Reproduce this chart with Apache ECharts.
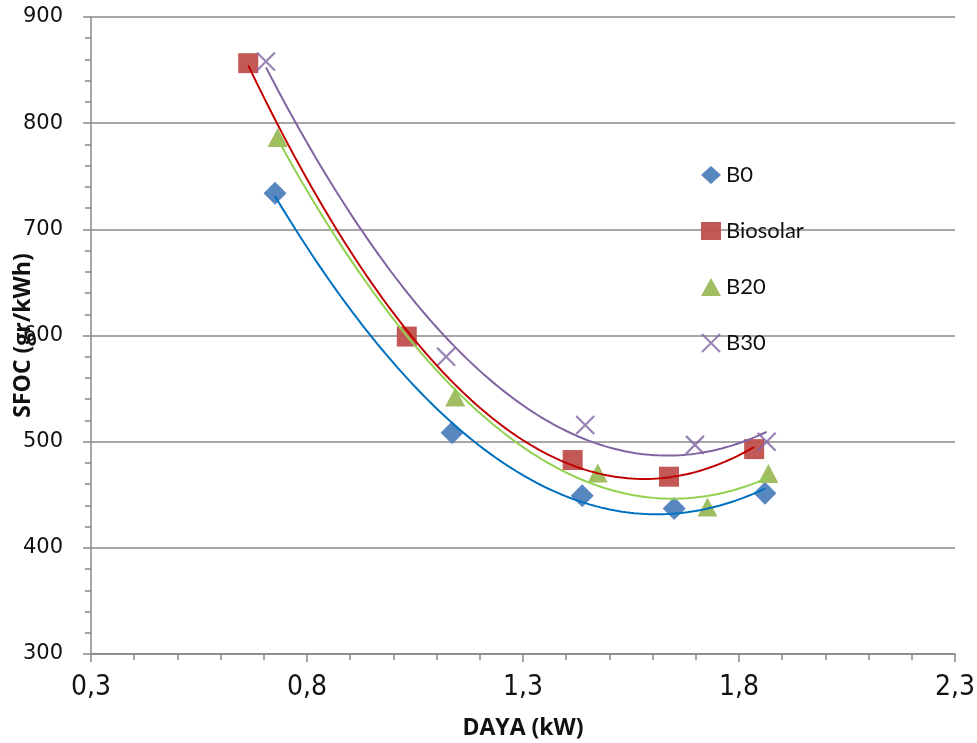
<!DOCTYPE html>
<html>
<head>
<meta charset="utf-8">
<title>SFOC vs DAYA</title>
<script src="https://cdn.jsdelivr.net/npm/echarts@6/dist/echarts.min.js"></script>
<style>
  html, body { margin: 0; padding: 0; background: #fff; }
  #chart { width: 977px; height: 743px; }
</style>
</head>
<body>
<div id="chart"></div>
<script>
// Measured points: power (kW) and specific fuel oil consumption (gr/kWh)
const seriesNames = ['B0', 'Biosolar', 'B20', 'B30'];
const dayaB0 = [0.726, 1.136, 1.437, 1.650, 1.860];
const sfocB0 = [734, 508.5, 449, 437, 451.5];
const dayaBiosolar = [0.664, 1.031, 1.415, 1.638, 1.835];
const sfocBiosolar = [856.5, 599, 482.7, 467, 493];
const dayaB20 = [0.732, 1.143, 1.473, 1.727, 1.868];
const sfocB20 = [786.5, 542, 470.5, 438.5, 470];
const dayaB30 = [0.705, 1.122, 1.444, 1.698, 1.864];
const sfocB30 = [858, 580, 515.7, 497, 500];

const xTicks = [0.3, 0.8, 1.3, 1.8, 2.3];
const yTicks = [300, 400, 500, 600, 700, 800, 900];

const markerColors = ['#4F81BD', '#C0504D', '#9BBB59', '#8064A2'];
const trendColors = ['#0070C0', '#C00000', '#92D050', '#8064A2'];

const xs = [dayaB0, dayaBiosolar, dayaB20, dayaB30];
const ys = [sfocB0, sfocBiosolar, sfocB20, sfocB30];

// Least-squares polynomial (order 2) trendline through each series
function polyFit2(x, y) {
  let s = [0, 0, 0, 0, 0], t = [0, 0, 0];
  for (let i = 0; i < x.length; i++) {
    let p = 1;
    for (let k = 0; k < 5; k++) { s[k] += p; if (k < 3) t[k] += p * y[i]; p *= x[i]; }
  }
  const A = [[s[0], s[1], s[2], t[0]], [s[1], s[2], s[3], t[1]], [s[2], s[3], s[4], t[2]]];
  for (let c = 0; c < 3; c++) {
    for (let r = c + 1; r < 3; r++) {
      const f = A[r][c] / A[c][c];
      for (let k = c; k < 4; k++) A[r][k] -= f * A[c][k];
    }
  }
  const coef = [0, 0, 0];
  for (let r = 2; r >= 0; r--) {
    let v = A[r][3];
    for (let k = r + 1; k < 3; k++) v -= A[r][k] * coef[k];
    coef[r] = v / A[r][r];
  }
  return coef;
}

function trendPoints(x, y) {
  const c = polyFit2(x, y);
  const lo = Math.min(...x), hi = Math.max(...x);
  const pts = [];
  const n = 120;
  for (let i = 0; i <= n; i++) {
    const xv = lo + (hi - lo) * i / n;
    pts.push([xv, c[0] + c[1] * xv + c[2] * xv * xv]);
  }
  return pts;
}

const symbols = ['diamond', 'rect', 'triangle', 'path://M0,0L10,10M10,0L0,10'];
const sizes = [[23, 23], [20, 20], [20, 19], [18, 18]];

const series = [];
seriesNames.forEach((name, i) => {
  const isCross = i === 3;
  series.push({
    name: name,
    type: 'scatter',
    data: xs[i].map((v, j) => [v, ys[i][j]]),
    symbol: symbols[i],
    symbolSize: sizes[i],
    itemStyle: isCross
      ? { color: 'rgba(0,0,0,0)', borderColor: markerColors[i], borderWidth: 2.2 }
      : { color: markerColors[i], opacity: 0.95 },
    z: 2
  });
});
seriesNames.forEach((name, i) => {
  series.push({
    name: name + ' trend',
    type: 'line',
    data: trendPoints(xs[i], ys[i]),
    showSymbol: false,
    silent: true,
    lineStyle: { color: trendColors[i], width: 2 },
    z: 3
  });
});

const axisGrey = '#888888';
const titleFont = { fontFamily: '"Open Sans", sans-serif', fontWeight: 'bold', fontSize: 23, color: '#111' };

const chart = echarts.init(document.getElementById('chart'), null, { renderer: 'canvas' });
chart.setOption({
  animation: false,
  backgroundColor: '#ffffff',
  grid: { left: 91, right: 22, top: 17, bottom: 89, containLabel: false, outerBoundsMode: 'none' },
  legend: {
    data: seriesNames,
    orient: 'vertical',
    left: 701,
    top: 164,
    padding: 0,
    itemGap: 34,
    itemWidth: 20,
    itemHeight: 18,
    textStyle: { fontFamily: 'Lato', fontSize: 22, color: '#111', lineHeight: 18 }
  },
  xAxis: {
    type: 'value',
    min: xTicks[0],
    max: xTicks[xTicks.length - 1],
    interval: 0.5,
    name: 'DAYA (kW)',
    nameLocation: 'middle',
    nameGap: 63,
    nameMoveOverlap: false,
    nameTextStyle: titleFont,
    axisLine: { show: true, lineStyle: { color: axisGrey, width: 1.5 } },
    axisTick: { show: true, length: 8, lineStyle: { color: axisGrey, width: 1.5 } },
    minorTick: { show: true, splitNumber: 5, length: 6, lineStyle: { color: axisGrey, width: 1.5 } },
    splitLine: { show: false },
    axisLabel: {
      margin: 20,
      fontFamily: '"Liberation Sans Narrow", "DejaVu Sans Condensed", sans-serif',
      fontSize: 28,
      color: '#111',
      formatter: v => v.toFixed(1).replace('.', ',')
    }
  },
  yAxis: {
    type: 'value',
    min: yTicks[0],
    max: yTicks[yTicks.length - 1],
    interval: 100,
    name: 'SFOC (gr/kWh)',
    nameLocation: 'middle',
    nameRotate: 90,
    nameGap: 56,
    nameMoveOverlap: false,
    nameTextStyle: titleFont,
    axisLine: { show: true, lineStyle: { color: axisGrey, width: 1.5 } },
    axisTick: { show: true, length: 8, lineStyle: { color: axisGrey, width: 1.5 } },
    minorTick: { show: true, splitNumber: 5, length: 6, lineStyle: { color: axisGrey, width: 1.5 } },
    splitLine: { show: true, lineStyle: { color: axisGrey, width: 1.5 } },
    axisLabel: { margin: 28, fontFamily: '"DejaVu Sans", sans-serif', fontSize: 21, color: '#111' }
  },
  series: series
});
</script>
</body>
</html>
